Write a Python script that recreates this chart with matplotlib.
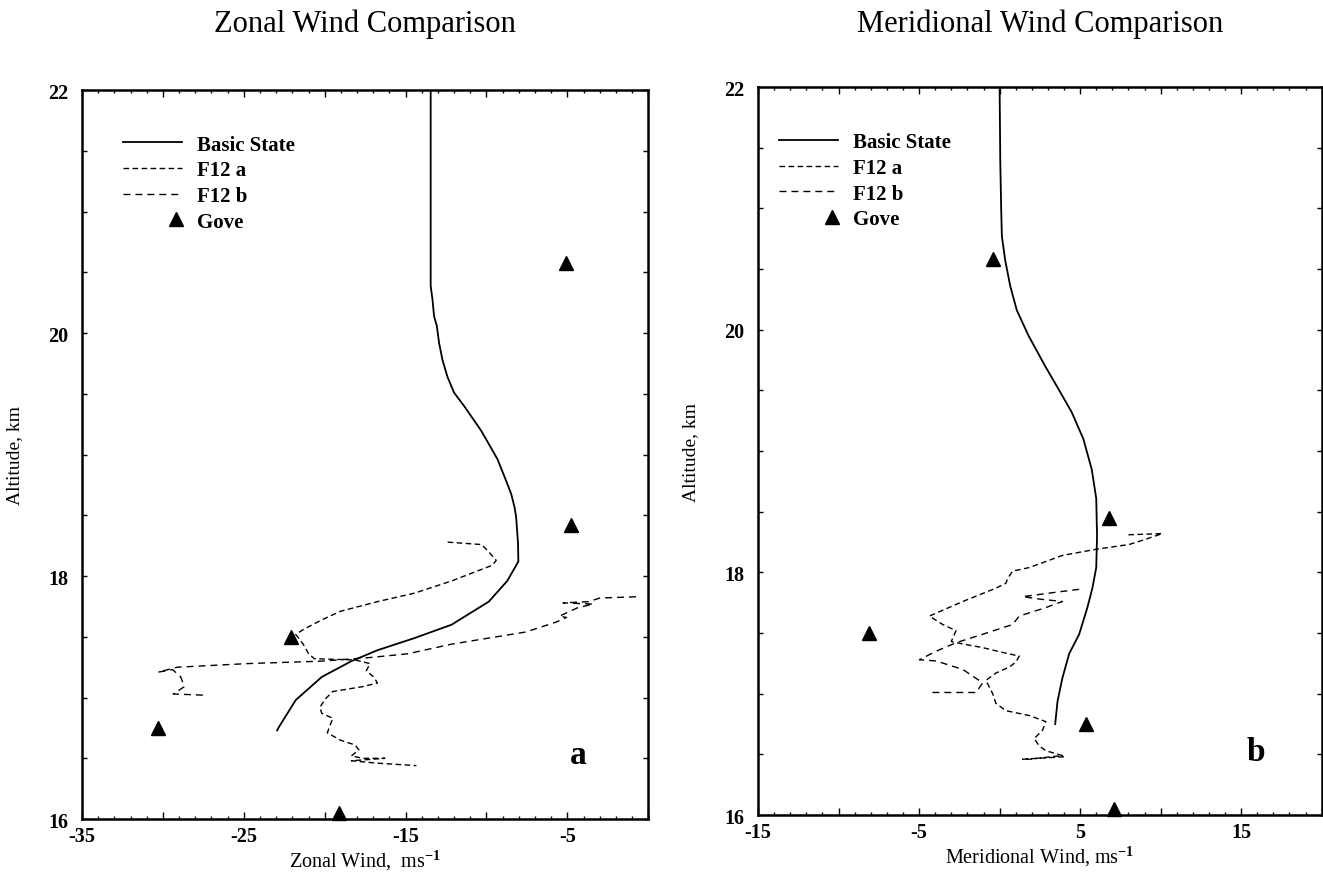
import numpy as np
import matplotlib
matplotlib.use("Agg")
import matplotlib.pyplot as plt
from matplotlib.ticker import MultipleLocator, FuncFormatter
from matplotlib.legend_handler import HandlerLine2D

plt.rcParams['font.family'] = ['Liberation Serif', 'DejaVu Serif']
plt.rcParams['font.weight'] = 'bold'
plt.rcParams['mathtext.fontset'] = 'custom'
plt.rcParams['mathtext.rm'] = 'Liberation Serif'

# ---- zonal panel (a) ----
zonal_bs_alt = [22.0, 20.39, 20.28, 20.14, 20.06, 19.92, 19.78, 19.64, 19.51, 19.40, 19.30, 19.20,
                19.08, 18.96, 18.82, 18.68, 18.57, 18.49, 18.27, 18.12, 17.96, 17.79, 17.60,
                17.49, 17.39, 17.30, 17.17, 16.98, 16.76, 16.73]
zonal_bs_u = [-13.45, -13.45, -13.34, -13.24, -13.07, -12.93, -12.72, -12.41, -12.0, -11.38, -10.86,
              -10.34, -9.82, -9.31, -8.89, -8.48, -8.27, -8.17, -8.05, -8.03, -8.72, -9.86, -12.16,
              -14.45, -16.74, -18.35, -20.18, -21.79, -22.82, -22.94]

zonal_f12a_alt = [18.28, 18.26, 18.20, 18.13, 18.09, 18.02, 17.96, 17.86, 17.79, 17.71, 17.64,
                  17.56, 17.52, 17.44, 17.36, 17.32, 17.31, 17.28, 17.22, 17.17, 17.12, 17.09,
                  17.05, 16.99, 16.92, 16.87, 16.83, 16.76, 16.71, 16.65, 16.61, 16.57, 16.52,
                  16.50, 16.50, 16.48, 16.46, 16.44]
zonal_f12a_u = [-12.4, -10.3, -9.86, -9.4, -9.63, -11.0, -12.16, -14.45, -16.74, -19.04, -20.18,
                -21.33, -21.79, -21.33, -20.99, -20.64, -18.12, -17.2, -17.43, -16.97, -16.74, -17.66,
                -19.5, -19.95, -20.3, -20.18, -19.5, -19.7, -19.84, -19.04, -18.12, -17.89, -18.35,
                -17.66, -16.28, -18.35, -16.74, -14.33]

zonal_f12b_alt = [17.83, 17.82, 17.79, 17.78, 17.77, 17.74, 17.67, 17.66, 17.62, 17.54, 17.49,
                  17.44, 17.36, 17.33, 17.30, 17.28, 17.25, 17.21, 17.23, 17.17, 17.09, 17.03, 17.02]
zonal_f12b_u = [-0.76, -2.98, -3.7, -5.27, -3.4, -4.36, -5.5, -5.05, -5.73, -7.57, -9.86,
                -12.16, -14.9, -17.2, -20.18, -24.77, -29.13, -30.28, -29.4, -28.9, -28.67, -29.36, -27.52]

zonal_gove_alt = [16.05, 16.75, 17.5, 18.42, 20.58]
zonal_gove_u = [-19.1, -30.3, -22.1, -4.8, -5.1]

# ---- meridional panel (b) ----
merid_bs_alt = [22.0, 21.39, 20.98, 20.77, 20.57, 20.36, 20.16, 19.95, 19.70, 19.51, 19.32, 19.10,
                18.85, 18.61, 18.30, 18.04, 17.87, 17.71, 17.49, 17.33, 17.13, 16.94, 16.75]
merid_bs_v = [0.0, 0.04, 0.1, 0.14, 0.35, 0.66, 1.07, 1.8, 2.83, 3.66, 4.48, 5.2,
              5.72, 6.0, 6.05, 6.0, 5.76, 5.45, 4.94, 4.32, 3.9, 3.6, 3.45]

merid_f12a_alt = [18.31, 18.32, 18.27, 18.23, 18.19, 18.14, 18.10, 18.04, 18.01, 17.95, 17.91,
                  17.87, 17.76, 17.64, 17.57, 17.52, 17.43, 17.41, 17.38, 17.34, 17.31, 17.26,
                  17.22, 17.17, 17.11, 17.0, 16.92, 16.86, 16.82, 16.77, 16.70, 16.63, 16.57,
                  16.53, 16.49, 16.46, 16.46, 16.48]
merid_f12a_v = [8.0, 10.1, 9.0, 8.04, 5.97, 3.9, 3.08, 1.84, 0.8, 0.5, 0.39,
                -0.23, -2.29, -4.36, -3.53, -2.71, -3.0, -2.29, -1.05, 0.19, 1.22, 1.01,
                0.6, -0.23, -0.85, -0.43, -0.23, 0.39, 1.84, 2.87, 2.67, 2.15, 2.46,
                2.87, 3.9, 1.84, 1.43, 4.0]

merid_f12b_alt = [17.86, 17.84, 17.80, 17.78, 17.76, 17.71, 17.64, 17.57, 17.49, 17.42, 17.35,
                  17.28, 17.27, 17.20, 17.09, 17.01, 17.01]
merid_f12b_v = [4.94, 3.7, 1.43, 2.5, 3.9, 2.87, 1.22, 0.8, -1.05, -2.71, -3.95,
                -4.98, -3.95, -2.29, -1.05, -1.47, -4.36]

merid_gove_alt = [16.05, 16.75, 17.5, 18.45, 20.58]
merid_gove_v = [7.1, 5.35, -8.1, 6.8, -0.4]


class RightMarker(HandlerLine2D):
    # one triangle at the right end of the legend handle
    def get_xdata(self, legend, xdescent, ydescent, width, height, fontsize):
        x = np.array([width - xdescent - 0.3 * fontsize])
        return x, x


def draw_panel(ax, bs, fa, fb, gove, x0, xlim, xlabel, letter, letter_xy, leg_anchor):
    l1, = ax.plot(bs[1], bs[0], color='black', lw=1.3)
    l2, = ax.plot(fa[1], fa[0], color='black', lw=1.0, dashes=(4, 2.5))
    l3, = ax.plot(fb[1], fb[0], color='black', lw=1.0, dashes=(5, 3.6))
    l4, = ax.plot(gove[1], gove[0], ls='none', marker='^', ms=10, color='black',
                  clip_on=False)

    ax.set_xlim(*xlim)
    ax.set_ylim(16, 22)
    ax.xaxis.set_major_locator(MultipleLocator(5))
    ax.xaxis.set_minor_locator(MultipleLocator(1))
    ax.xaxis.set_major_formatter(FuncFormatter(
        lambda v, p: f"{v:g}" if round(v - x0) % 10 == 0 else ""))
    ax.yaxis.set_major_locator(MultipleLocator(2))
    ax.yaxis.set_minor_locator(MultipleLocator(0.5))
    ax.tick_params(which='both', direction='in', top=True, right=True, width=1.0,
                   labelsize=14.5)
    ax.tick_params(axis='x', which='major', length=5, pad=5)
    ax.tick_params(axis='x', which='minor', length=2.5)
    ax.tick_params(axis='y', which='both', length=3.5, pad=10)
    for s in ax.spines.values():
        s.set_linewidth(1.8)

    ax.set_xlabel(xlabel, fontsize=14.5, fontweight='normal', labelpad=1)
    ax.set_ylabel('Altitude, km', fontsize=14, fontweight='normal', labelpad=18)

    ax.legend([l1, l2, l3, l4], ['Basic State', 'F12 a', 'F12 b', 'Gove'],
              loc='upper left', bbox_to_anchor=leg_anchor, frameon=False,
              fontsize=15, handlelength=2.85, handletextpad=0.7, labelspacing=0.27,
              borderpad=0, borderaxespad=0,
              handler_map={l4: RightMarker(numpoints=2)})
    ax.text(letter_xy[0], letter_xy[1], letter, fontsize=24, fontweight='heavy',
            ha='center', va='center')


fig = plt.figure(figsize=(13.23, 8.78), dpi=100)
ax1 = fig.add_axes([0.062, 0.066, 0.428, 0.830])
ax2 = fig.add_axes([0.573, 0.0706, 0.426, 0.829])

draw_panel(ax1, (zonal_bs_alt, zonal_bs_u), (zonal_f12a_alt, zonal_f12a_u),
           (zonal_f12b_alt, zonal_f12b_u), (zonal_gove_alt, zonal_gove_u),
           -35, (-35, 0), 'Zonal Wind,  ms$^{-1}$', 'a', (-4.3, 16.53), (0.072, 0.939))
draw_panel(ax2, (merid_bs_alt, merid_bs_v), (merid_f12a_alt, merid_f12a_v),
           (merid_f12b_alt, merid_f12b_v), (merid_gove_alt, merid_gove_v),
           -15, (-15, 20), 'Meridional Wind, ms$^{-1}$', 'b', (15.9, 16.52), (0.037, 0.938))

fig.text(365 / 1323, 1 - 24 / 878, 'Zonal Wind Comparison', fontsize=22,
         fontweight='normal', ha='center', va='center')
fig.text(1040 / 1323, 1 - 24 / 878, 'Meridional Wind Comparison', fontsize=22,
         fontweight='normal', ha='center', va='center')

fig.savefig('out.png', dpi=100)
